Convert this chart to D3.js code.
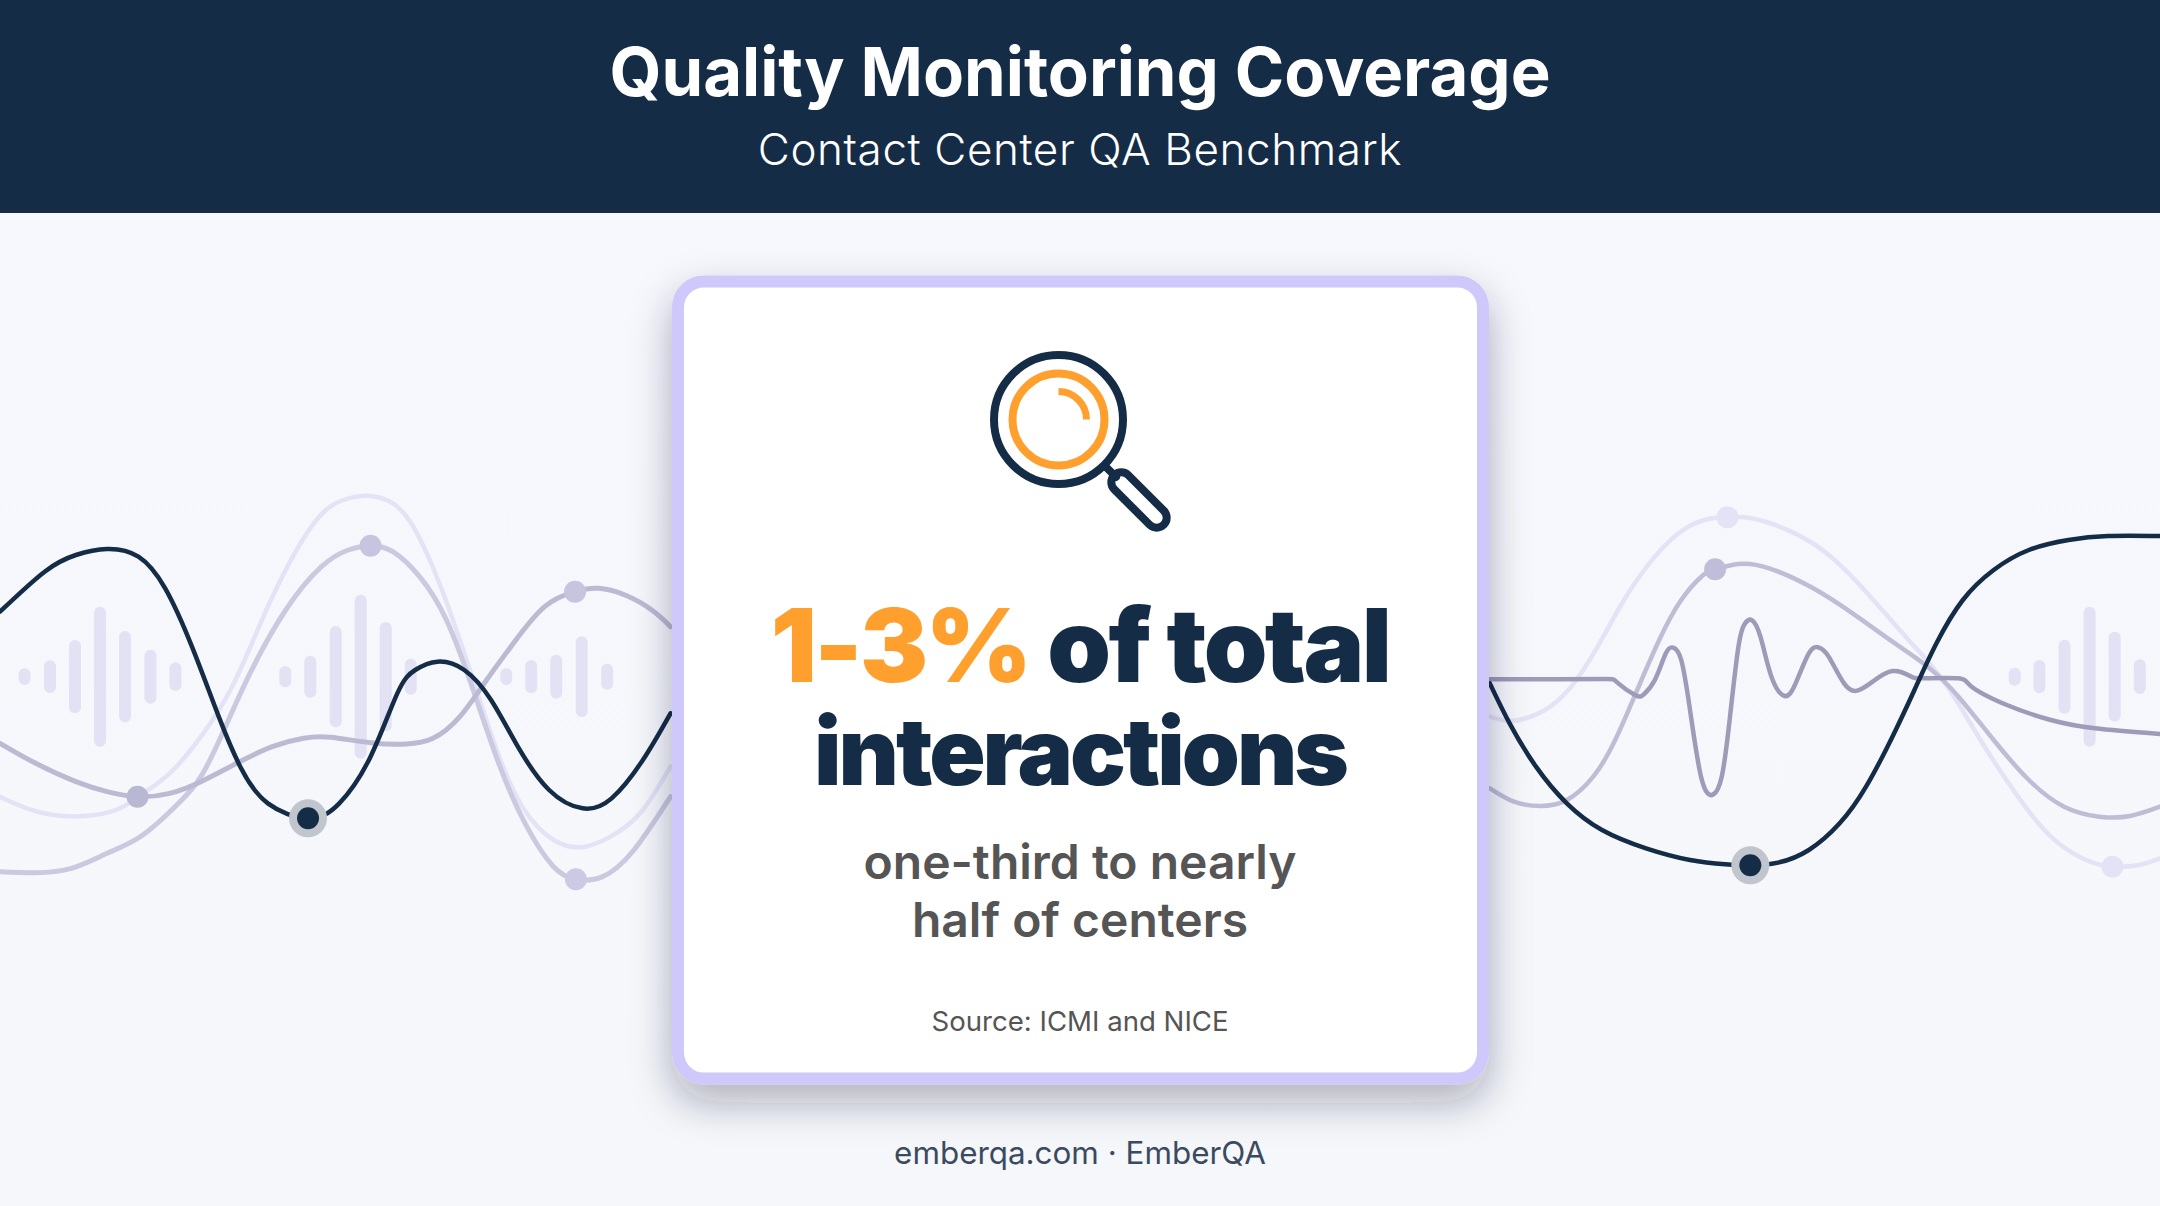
<!DOCTYPE html>
<html>
<head>
<meta charset="utf-8">
<title>Quality Monitoring Coverage</title>
<script src="https://cdn.jsdelivr.net/npm/d3@7"></script>
<style>
html, body { margin: 0; padding: 0; background: #f7f8fd; }
svg { display: block; font-family: Inter, sans-serif; }
</style>
</head>
<body>
<svg id="chart" width="2160" height="1206"></svg>
<script>
// texts
var titleText = "Quality Monitoring Coverage";
var subtitleText = "Contact Center QA Benchmark";
var statHighlight = "1-3%";
var statRest = " of total";
var statLine2 = "interactions";
var noteLines = ["one-third to nearly", "half of centers"];
var sourceText = "Source: ICMI and NICE";
var footerText = "emberqa.com \u00b7 EmberQA";

// left panel waves (t = position along the panel, a = amplitude)
var leftDarkT = [0,100,170,240,310,370,430,490,540,600,690,760,830,890,930,980,1040,1100,1160,1230,1305,1370,1440,1502];
var leftDarkA = [195,315,365,383,360,265,90,-120,-275,-380,-425,-380,-240,-50,20,45,20,-70,-210,-340,-395,-365,-250,-110];
var leftMidT = [0,80,160,240,320,400,450,500,560,640,720,780,830,880,940,1000,1060,1120,1180,1240,1290,1350,1420,1502];
var leftMidA = [-585,-588,-575,-530,-475,-380,-300,-165,10,200,330,380,393,375,300,170,-40,-270,-450,-570,-608,-600,-520,-360];
var leftFaintT = [0,60,120,190,260,310,380,450,520,590,660,730,790,830,880,930,990,1050,1110,1170,1240,1310,1380,1440,1502];
var leftFaintA = [-360,-395,-415,-418,-400,-360,-290,-180,-30,180,370,500,538,542,520,440,260,30,-210,-390,-490,-510,-470,-400,-270];
var leftGreyT = [0,80,170,240,308,380,450,530,610,680,740,830,910,970,1030,1090,1150,1220,1288,1340,1400,1460,1502];
var leftGreyA = [-200,-260,-315,-345,-360,-350,-315,-260,-210,-185,-182,-198,-202,-185,-120,-10,100,210,255,265,245,200,150];

// right panel waves
var rightDarkT = [45,90,150,220,300,400,500,580,637,700,770,840,900,960,1010,1060,1120,1190,1270,1360,1450,1568];
var rightDarkA = [-20,-140,-270,-380,-460,-515,-550,-563,-566,-558,-520,-440,-330,-180,-40,100,230,320,380,410,422,422];
var rightMidT = [45,100,160,220,280,330,380,430,480,530,557,610,680,780,880,960,1040,1110,1190,1270,1350,1430,1500,1568];
var rightMidA = [-335,-375,-388,-370,-300,-190,-40,110,230,305,322,338,325,265,180,105,30,-60,-190,-310,-390,-420,-418,-390];
var rightFaintT = [45,100,170,230,290,350,420,490,550,585,640,730,820,910,1000,1080,1160,1240,1320,1400,1460,1520,1568];
var rightFaintA = [-120,-132,-100,-30,90,230,360,445,475,478,475,435,360,240,105,-20,-190,-350,-480,-550,-570,-565,-545];
var rightGreyT = [45,200,310,335,375,395,420,445,462,480,500,525,550,572,590,610,625,640,660,685,715,740,770,792,815,850,880,915,960,1000,1030,1110,1140,1220,1320,1420,1568];
var rightGreyA = [-8,-8,-7,-18,-55,-53,-10,70,87,50,-100,-300,-355,-300,-130,90,160,170,120,0,-58,-20,70,88,60,-20,-42,-15,17,2,-5,-5,-30,-85,-130,-155,-172];

// equaliser bars
var leftBarT = [55,112,168,224,280,337,393, 639,695,752,808,864,920, 1134,1190,1246,1303,1360];
var leftBarA = [25,49,110,210,137,81,43, 32,63,152,246,164,54, 25,50,66,121,39];
var rightBarT = [1238,1294,1351,1408,1465,1522];
var rightBarA = [27,50,111,210,135,52];

// markers on the waves
var leftMarkT = [308,830,1288,1290];
var leftMarkA = [-360,393,255,-608];
var leftMarkC = ["#b9b8d4","#c6c5e0","#c6c5e0","#cbcae4"];
var rightMarkT = [557,585,1460];
var rightMarkA = [322,478,-570];
var rightMarkC = ["#bfbdd8","#e4e2f5","#e4e2f5"];
var leftDotT = [690], leftDotA = [-425];
var rightDotT = [637], rightDotA = [-566];

var navy = "#152c47", orange = "#ffa02e", lilac = "#cec8fb", grey = "#555555";

var svg = d3.select("#chart");
var defs = svg.append("defs");

var shadow = defs.append("filter")
    .attr("id", "cardShadow")
    .attr("x", "-25%").attr("y", "-25%")
    .attr("width", "150%").attr("height", "150%");
shadow.append("feDropShadow")
    .attr("dx", 0).attr("dy", 18)
    .attr("stdDeviation", 20)
    .attr("flood-color", "#222230")
    .attr("flood-opacity", 0.32);

var bg = defs.append("linearGradient").attr("id", "pageBg")
    .attr("x1", 0).attr("y1", 0).attr("x2", 0).attr("y2", 1);
bg.append("stop").attr("offset", 0).attr("stop-color", "#f7f8fd");
bg.append("stop").attr("offset", 1).attr("stop-color", "#f5f7fb");

svg.append("rect").attr("width", 2160).attr("height", 1206).attr("fill", "url(#pageBg)");

var y = d3.scaleLinear().domain([650, -760]).range([460, 930]);
var xLeft = d3.scaleLinear().domain([0, 1568]).range([0, 700]);
var xRight = d3.scaleLinear().domain([0, 1568]).range([1470, 2160]);

function zip(ts, as) {
    return ts.map(function(t, i) { return {t: t, a: as[i]}; });
}

function drawBars(x, ts, as) {
    svg.append("g").selectAll("rect").data(zip(ts, as)).enter().append("rect")
        .attr("x", function(d) { return x(d.t) - 6; })
        .attr("y", function(d) { return y(d.a); })
        .attr("width", 12)
        .attr("height", function(d) { return y(-d.a) - y(d.a); })
        .attr("rx", 6)
        .attr("fill", "#e3e1f4");
}

function drawWave(x, ts, as, color, width) {
    var line = d3.line()
        .x(function(d) { return x(d.t); })
        .y(function(d) { return y(d.a); })
        .curve(d3.curveNatural);
    svg.append("path")
        .attr("d", line(zip(ts, as)))
        .attr("fill", "none")
        .attr("stroke", color)
        .attr("stroke-width", width)
        .attr("stroke-linecap", "round");
}

function drawMarks(x, ts, as, colors, r) {
    svg.append("g").selectAll("circle").data(zip(ts, as)).enter().append("circle")
        .attr("cx", function(d) { return x(d.t); })
        .attr("cy", function(d) { return y(d.a); })
        .attr("r", r)
        .attr("fill", function(d, i) { return colors[i]; });
}

function drawDot(x, ts, as) {
    drawMarks(x, ts, as, ["#c0c5ce"], 19);
    drawMarks(x, ts, as, [navy], 11);
}

drawBars(xLeft, leftBarT, leftBarA);
drawBars(xRight, rightBarT, rightBarA);

drawWave(xLeft, leftFaintT, leftFaintA, "#e4e2f5", 4.5);
drawWave(xLeft, leftMidT, leftMidA, "#cbc9e0", 5);
drawWave(xLeft, leftGreyT, leftGreyA, "#bcbad3", 5);
drawWave(xLeft, leftDarkT, leftDarkA, navy, 4.5);
drawMarks(xLeft, leftMarkT, leftMarkA, leftMarkC, 11);
drawDot(xLeft, leftDotT, leftDotA);

drawWave(xRight, rightFaintT, rightFaintA, "#e4e2f5", 4.5);
drawWave(xRight, rightMidT, rightMidA, "#bfbdd6", 4.5);
drawWave(xRight, rightGreyT, rightGreyA, "#9d9bb8", 4.5);
drawWave(xRight, rightDarkT, rightDarkA, navy, 4.5);
drawMarks(xRight, rightMarkT, rightMarkA, rightMarkC, 11);
drawDot(xRight, rightDotT, rightDotA);

// header band
svg.append("rect").attr("x", 0).attr("y", 0).attr("width", 2160).attr("height", 213).attr("fill", navy);
svg.append("text").attr("x", 1080).attr("y", 96)
    .attr("text-anchor", "middle").attr("font-size", 67).attr("font-weight", 700)
    .attr("fill", "#ffffff").text(titleText);
svg.append("text").attr("x", 1080).attr("y", 165)
    .attr("text-anchor", "middle").attr("font-size", 44).attr("font-weight", 300)
    .attr("letter-spacing", 0.6)
    .attr("fill", "#ffffff").text(subtitleText);

// card
svg.append("rect")
    .attr("x", 678).attr("y", 281.5).attr("width", 805).attr("height", 797)
    .attr("rx", 26)
    .attr("fill", "#ffffff")
    .attr("stroke", lilac).attr("stroke-width", 12)
    .attr("filter", "url(#cardShadow)");

// magnifier icon
var icon = svg.append("g").attr("fill", "none").attr("stroke-linecap", "round");
icon.append("circle").attr("cx", 1058.5).attr("cy", 419.5).attr("r", 64.5).attr("stroke", navy).attr("stroke-width", 8);
icon.append("circle").attr("cx", 1058.5).attr("cy", 419.5).attr("r", 46).attr("stroke", orange).attr("stroke-width", 8);
icon.append("path")
    .attr("d", d3.arc().innerRadius(28).outerRadius(28).startAngle(0).endAngle(Math.PI / 2)())
    .attr("transform", "translate(1058.5,419.5)")
    .attr("stroke", orange).attr("stroke-width", 7);
icon.append("line").attr("x1", 1106).attr("y1", 467).attr("x2", 1116).attr("y2", 477).attr("stroke", navy).attr("stroke-width", 8);
icon.append("rect")
    .attr("x", -10).attr("y", -35).attr("width", 20).attr("height", 70).attr("rx", 10)
    .attr("transform", "translate(1139,500) rotate(-45)")
    .attr("stroke", navy).attr("stroke-width", 8);

// big number
var stat = svg.append("text").attr("x", 1080).attr("y", 682)
    .attr("text-anchor", "middle").attr("font-size", 102).attr("font-weight", 900)
    .attr("letter-spacing", -2.6)
    .attr("fill", navy).style("white-space", "pre");
stat.append("tspan").attr("fill", orange).text(statHighlight);
stat.append("tspan").text(statRest);
svg.append("text").attr("x", 1080).attr("y", 785)
    .attr("text-anchor", "middle").attr("font-size", 93).attr("font-weight", 900)
    .attr("letter-spacing", -3)
    .attr("fill", navy).text(statLine2);

svg.selectAll("text.note").data(noteLines).enter().append("text")
    .attr("class", "note")
    .attr("x", 1080)
    .attr("y", function(d, i) { return 879 + i * 58; })
    .attr("text-anchor", "middle").attr("font-size", 48).attr("font-weight", 600)
    .attr("fill", grey)
    .text(function(d) { return d; });

svg.append("text").attr("x", 1080).attr("y", 1031)
    .attr("text-anchor", "middle").attr("font-size", 27.6).attr("fill", grey).text(sourceText);

svg.append("text").attr("x", 1080).attr("y", 1164)
    .attr("text-anchor", "middle").attr("font-size", 31.4).attr("fill", "#3b4a5e").text(footerText);
</script>
</body>
</html>
